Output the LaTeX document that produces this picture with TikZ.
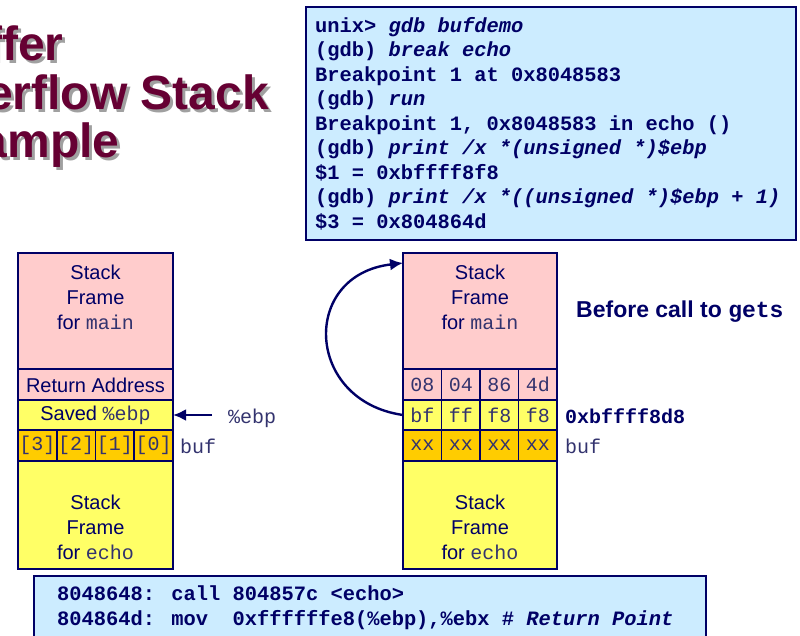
\documentclass[tikz,border=0pt]{standalone}
\usepackage{fontspec}
\setmainfont{Liberation Sans}
\newfontfamily\mono{Liberation Mono}
\usetikzlibrary{arrows.meta,calc}

\definecolor{navy}{RGB}{0,0,102}
\definecolor{slate}{RGB}{51,51,110}
\definecolor{maroon}{RGB}{102,0,51}
\definecolor{shade}{RGB}{160,160,160}
\definecolor{pinkbg}{RGB}{255,204,204}
\definecolor{yellowbg}{RGB}{255,255,102}
\definecolor{goldbg}{RGB}{255,204,0}
\definecolor{bluebg}{RGB}{204,236,255}

\tikzset{
  title/.style={inner sep=0pt, anchor=base west, font=\bfseries\fontsize{48}{48}\selectfont},
  frame/.style={draw=navy, line width=1.8pt, inner sep=0pt, outer sep=0pt},
  cell/.style={frame, minimum height=31pt, text=slate, font=\mono\fontsize{20}{24}\selectfont},
  lbl/.style={text=navy, align=center, inner sep=0pt, font=\fontsize{20}{25}\selectfont},
  tag/.style={text=slate, inner sep=0pt, anchor=base west, font=\mono\fontsize{20}{24}\selectfont},
  codebox/.style={draw=navy, fill=bluebg, line width=2.5pt, inner sep=0pt, outer sep=0pt, anchor=north west},
  code/.style={text=navy, align=left, inner sep=0pt, anchor=base west, font=\mono\bfseries\fontsize{20.4}{24.5}\selectfont},
}

\begin{document}
\begin{tikzpicture}[>={Latex[length=13pt,width=12pt]}, x=1pt, y=-1pt]
  \useasboundingbox (0,0) rectangle (800,635);

  % Title (cut at the left edge)
  \begin{scope}
    \clip (0,0) rectangle (800,635);
    \node[title, text=shade] (titleAs) at (-75,63) {Buffer};
    \node[title, text=shade] (titleBs) at (-75,112) {Overflow Stack};
    \node[title, text=shade] (titleCs) at (-75,160) {Example};
    \node[title, text=maroon] (titleA) at (-78,60) {Buffer};
    \node[title, text=maroon] (titleB) at (-78,109) {Overflow Stack};
    \node[title, text=maroon] (titleC) at (-78,157) {Example};
  \end{scope}

  % gdb session (base = last line)
  \node[codebox, minimum width=490pt, minimum height=233pt] (gdbbox) at (306,7) {};
  \node[code] (gdbtext) at (315,228) {unix> \textit{gdb bufdemo}\\
    (gdb) \textit{break echo}\\
    Breakpoint 1 at 0x8048583\\
    (gdb) \textit{run}\\
    Breakpoint 1, 0x8048583 in echo ()\\
    (gdb) \textit{print /x *(unsigned *)\$ebp}\\
    \$1 = 0xbffff8f8\\
    (gdb) \textit{print /x *((unsigned *)\$ebp + 1)}\\
    \$3 = 0x804864d};

  % Left stack
  \node[frame, fill=pinkbg, minimum width=155pt, minimum height=116pt] (mainL) at (95.5,311) {};
  \node[frame, fill=pinkbg, minimum width=155pt, minimum height=31pt] (raL) at (95.5,384.5) {};
  \node[frame, fill=yellowbg, minimum width=155pt, minimum height=30pt] (ebpL) at (95.5,415) {};
  \node[cell, fill=goldbg, minimum width=38.75pt] (bufL3) at (37.375,445.5) {[3]};
  \node[cell, fill=goldbg, minimum width=38.75pt] (bufL2) at (76.125,445.5) {[2]};
  \node[cell, fill=goldbg, minimum width=38.75pt] (bufL1) at (114.875,445.5) {[1]};
  \node[cell, fill=goldbg, minimum width=38.75pt] (bufL0) at (153.625,445.5) {[0]};
  \node[frame, fill=yellowbg, minimum width=155pt, minimum height=108pt] (echoL) at (95.5,515) {};
  \draw[navy, line width=2.6pt] (mainL.north west) rectangle (echoL.south east);

  \node[lbl] (mainLtxt) at (95.5,297) {Stack\\Frame\\for \textcolor{slate}{\mono main}};
  \node[lbl] (raLtxt) at (95.5,385) {Return Address};
  \node[lbl] (ebpLtxt) at (95.5,415) {Saved \textcolor{slate}{\mono\%ebp}};
  \node[lbl] (echoLtxt) at (95.5,527) {Stack\\Frame\\for \textcolor{slate}{\mono echo}};

  \node[tag] (ebpTag) at (228,423) {\%ebp};
  \node[tag] (bufTagL) at (180,453) {buf};
  \draw[->, navy, line width=2.8pt] ($(ebpL.east -| ebpTag.west)+(-16,0)$) -- (ebpL.east);

  % Right stack
  \node[frame, fill=pinkbg, minimum width=154pt, minimum height=116pt] (mainR) at (480,311) {};
  \node[cell, fill=pinkbg, minimum width=38.5pt] (raR1) at (422.25,384.5) {08};
  \node[cell, fill=pinkbg, minimum width=38.5pt] (raR2) at (460.75,384.5) {04};
  \node[cell, fill=pinkbg, minimum width=38.5pt] (raR3) at (499.25,384.5) {86};
  \node[cell, fill=pinkbg, minimum width=38.5pt] (raR4) at (537.75,384.5) {4d};
  \node[cell, fill=yellowbg, minimum width=38.5pt, minimum height=30pt] (ebpR1) at (422.25,415) {bf};
  \node[cell, fill=yellowbg, minimum width=38.5pt, minimum height=30pt] (ebpR2) at (460.75,415) {ff};
  \node[cell, fill=yellowbg, minimum width=38.5pt, minimum height=30pt] (ebpR3) at (499.25,415) {f8};
  \node[cell, fill=yellowbg, minimum width=38.5pt, minimum height=30pt] (ebpR4) at (537.75,415) {f8};
  \node[cell, fill=goldbg, minimum width=38.5pt] (bufR1) at (422.25,445.5) {xx};
  \node[cell, fill=goldbg, minimum width=38.5pt] (bufR2) at (460.75,445.5) {xx};
  \node[cell, fill=goldbg, minimum width=38.5pt] (bufR3) at (499.25,445.5) {xx};
  \node[cell, fill=goldbg, minimum width=38.5pt] (bufR4) at (537.75,445.5) {xx};
  \node[frame, fill=yellowbg, minimum width=154pt, minimum height=108pt] (echoR) at (480,515) {};
  \draw[navy, line width=2.6pt] (mainR.north west) rectangle (echoR.south east);

  \node[lbl] (mainRtxt) at (480,297) {Stack\\Frame\\for \textcolor{slate}{\mono main}};
  \node[lbl] (echoRtxt) at (480,527) {Stack\\Frame\\for \textcolor{slate}{\mono echo}};

  \node[tag, text=navy, font=\mono\bfseries\fontsize{20}{24}\selectfont] (addrTag) at (565,423) {0xbffff8d8};
  \node[tag] (bufTagR) at (565,453) {buf};
  \node[anchor=base west, inner sep=0pt, text=navy, font=\bfseries\fontsize{23}{27}\selectfont] (before) at (576,317) {Before call to {\mono gets}};

  % saved %ebp points back into main's frame
  \draw[->, navy, line width=2.4pt] (ebpR1.west) .. controls +(-98,-14) and +(-103,12) .. ([yshift=-10pt]mainR.north west);

  % call site (base = last line)
  \node[codebox, minimum width=672pt, minimum height=75pt] (asmbox) at (34,576) {};
  \node[code] (asmtext) at (57,625) {8048648: call 804857c <echo>\\
    804864d: mov~~0xffffffe8(\%ebp),\%ebx \# \textit{Return Point}};
\end{tikzpicture}
\end{document}
